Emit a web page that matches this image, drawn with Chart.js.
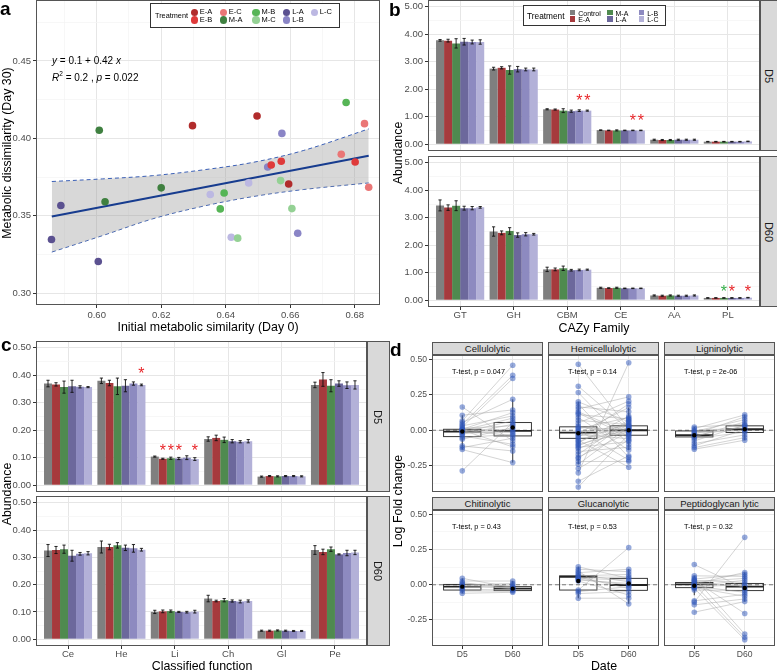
<!DOCTYPE html>
<html lang="en">
<head>
<meta charset="utf-8" />
<title>Metabolic similarity and CAZy abundance</title>
<script src="https://cdn.jsdelivr.net/npm/chart.js@4.4.1/dist/chart.umd.min.js"></script>
<style>
  html, body { margin: 0; background: #fff; }
  #fig { position: relative; width: 777px; height: 671px; overflow: hidden; font-family: "Liberation Sans", Arial, sans-serif; }
  #fig canvas { position: absolute; }
  .t { position: absolute; white-space: nowrap; line-height: 1; color: #000; }
  .strip { position: absolute; box-sizing: border-box; background: #d9d9d9; border: 1px solid #555; display: flex; align-items: center; justify-content: center; color: #1a1a1a; white-space: nowrap; }
  .lg { position: absolute; box-sizing: border-box; background: #fff; border: 1px solid #333; }
  .key { position: absolute; }
</style>
</head>
<body>
<div id="fig"></div>
<script>
// ---------- panel a ----------
const aTreat = ['E-A', 'E-B', 'E-C', 'M-A', 'M-B', 'M-C', 'L-A', 'L-B', 'L-C'];
const aGroup = ['E-A','E-A','E-A','E-B','E-B','E-B','E-C','E-C','E-C','M-A','M-A','M-A','M-B','M-B','M-B','M-C','M-C','M-C','L-A','L-A','L-A','L-B','L-B','L-B','L-C','L-C','L-C'];
const aInitial = [0.6297, 0.6497, 0.6595, 0.6541, 0.6572, 0.6801, 0.6830, 0.6758, 0.6843, 0.6008, 0.6200, 0.6026, 0.6773, 0.6395, 0.6383, 0.6570, 0.6605, 0.6437, 0.5860, 0.5889, 0.6005, 0.6574, 0.6530, 0.6623, 0.6352, 0.6471, 0.6417];
const aDay30 = [0.4082, 0.4144, 0.3705, 0.3828, 0.3852, 0.3847, 0.4095, 0.3897, 0.3684, 0.4052, 0.3680, 0.3590, 0.4232, 0.3647, 0.3544, 0.3727, 0.3546, 0.3355, 0.3346, 0.3566, 0.3204, 0.4032, 0.3815, 0.3387, 0.3637, 0.3712, 0.3361];
const aFitX = [0.5861, 0.6843];
const aFitY = [0.3495, 0.3888];
const aBandX = [0.5861, 0.6019, 0.6174, 0.6329, 0.6485, 0.6640, 0.6843];
const aBandHi = [0.3721, 0.3738, 0.3759, 0.3796, 0.3845, 0.3921, 0.4061];
const aBandLo = [0.3265, 0.3372, 0.3480, 0.3561, 0.3624, 0.3669, 0.3712];
const aXTicks = [0.59, 0.60, 0.61, 0.62, 0.63, 0.64, 0.65, 0.66, 0.67, 0.68];
const aYTicks = [0.300, 0.325, 0.350, 0.375, 0.400, 0.425, 0.450, 0.475];

// ---------- panels b and c ----------
const treatments = ['Control', 'E-A', 'M-A', 'L-A', 'L-B', 'L-C'];
const cazyFamilies = ['GT', 'GH', 'CBM', 'CE', 'AA', 'PL'];
const functions = ['Ce', 'He', 'Li', 'Ch', 'Gl', 'Pe'];
// rows = treatments, columns = families
const cazyD5 = [
  [3.78, 2.75, 1.27, 0.51, 0.16, 0.09],
  [3.77, 2.78, 1.26, 0.50, 0.15, 0.09],
  [3.67, 2.70, 1.22, 0.50, 0.15, 0.09],
  [3.73, 2.73, 1.20, 0.50, 0.16, 0.09],
  [3.72, 2.72, 1.22, 0.50, 0.16, 0.09],
  [3.72, 2.72, 1.22, 0.50, 0.16, 0.10]
];
const cazyD5Err = [
  [0.03, 0.05, 0.02, 0.01, 0.02, 0.01],
  [0.05, 0.04, 0.02, 0.01, 0.02, 0.01],
  [0.17, 0.15, 0.07, 0.02, 0.02, 0.01],
  [0.12, 0.10, 0.04, 0.01, 0.02, 0.01],
  [0.07, 0.05, 0.03, 0.01, 0.02, 0.01],
  [0.08, 0.05, 0.02, 0.01, 0.02, 0.01]
];
const cazyD60 = [
  [3.45, 2.50, 1.12, 0.45, 0.17, 0.08],
  [3.37, 2.45, 1.12, 0.44, 0.16, 0.08],
  [3.44, 2.52, 1.16, 0.45, 0.17, 0.08],
  [3.35, 2.37, 1.09, 0.43, 0.16, 0.08],
  [3.35, 2.40, 1.10, 0.43, 0.16, 0.08],
  [3.38, 2.40, 1.11, 0.43, 0.17, 0.09]
];
const cazyD60Err = [
  [0.20, 0.17, 0.08, 0.02, 0.02, 0.01],
  [0.10, 0.07, 0.05, 0.01, 0.02, 0.01],
  [0.18, 0.12, 0.08, 0.02, 0.02, 0.01],
  [0.07, 0.08, 0.03, 0.01, 0.02, 0.01],
  [0.06, 0.06, 0.03, 0.01, 0.02, 0.01],
  [0.03, 0.03, 0.02, 0.01, 0.02, 0.01]
];
const funcD5 = [
  [0.370, 0.380, 0.104, 0.168, 0.031, 0.365],
  [0.367, 0.372, 0.096, 0.172, 0.033, 0.385],
  [0.357, 0.360, 0.098, 0.165, 0.032, 0.362],
  [0.360, 0.362, 0.097, 0.160, 0.033, 0.370],
  [0.358, 0.370, 0.100, 0.158, 0.033, 0.364],
  [0.357, 0.365, 0.095, 0.160, 0.032, 0.365]
];
const funcD5Err = [
  [0.012, 0.010, 0.002, 0.008, 0.002, 0.010],
  [0.006, 0.010, 0.002, 0.010, 0.002, 0.025],
  [0.022, 0.030, 0.004, 0.010, 0.002, 0.022],
  [0.022, 0.022, 0.004, 0.006, 0.002, 0.010],
  [0.004, 0.006, 0.007, 0.004, 0.002, 0.012],
  [0.002, 0.003, 0.005, 0.006, 0.002, 0.015]
];
const funcD60 = [
  [0.325, 0.338, 0.100, 0.149, 0.031, 0.327],
  [0.327, 0.338, 0.102, 0.140, 0.031, 0.320],
  [0.330, 0.344, 0.103, 0.143, 0.032, 0.330],
  [0.306, 0.335, 0.100, 0.140, 0.031, 0.311],
  [0.313, 0.333, 0.099, 0.138, 0.030, 0.316],
  [0.315, 0.328, 0.101, 0.140, 0.030, 0.318]
];
const funcD60Err = [
  [0.022, 0.022, 0.006, 0.012, 0.002, 0.016],
  [0.013, 0.010, 0.005, 0.003, 0.002, 0.010],
  [0.015, 0.010, 0.004, 0.006, 0.002, 0.008],
  [0.020, 0.010, 0.002, 0.004, 0.002, 0.002],
  [0.005, 0.014, 0.003, 0.005, 0.002, 0.010],
  [0.006, 0.005, 0.005, 0.004, 0.002, 0.008]
];
// significance marks: [category, treatment, height, colour]
const RED = '#e8262a', GREEN = '#35b04a';
const cazyD5Stars = [[2, 4, 1.72, RED], [2, 5, 1.72, RED], [3, 4, 0.99, RED], [3, 5, 0.99, RED]];
const cazyD60Stars = [[5, 2, 0.46, GREEN], [5, 3, 0.46, RED], [5, 5, 0.46, RED]];
const funcD5Stars = [[1, 5, 0.421, RED], [2, 1, 0.139, RED], [2, 2, 0.139, RED], [2, 3, 0.139, RED], [2, 5, 0.139, RED]];
const funcD60Stars = [];
const bYTicks = [0, 0.5, 1, 1.5, 2, 2.5, 3, 3.5, 4, 4.5, 5];
const cYTicks = [0, 0.05, 0.1, 0.15, 0.2, 0.25, 0.3, 0.35, 0.4, 0.45, 0.5];

// ---------- panel d ----------
const dFacets = ['Cellulolytic', 'Hemicellulolytic', 'Ligninolytic', 'Chitinolytic', 'Glucanolytic', 'Peptidoglycan lytic'];
const dPValues = ['0.047', '0.14', '2e-06', '0.43', '0.53', '0.32'];
const dDates = ['D5', 'D60'];
const cellD5 = [0.164, 0.106, 0.066, 0.054, 0.042, 0.031, 0.023, 0.014, 0.007, 0.003, 0.0, -0.005, -0.009, -0.015, -0.019, -0.028, -0.04, -0.052, -0.063, -0.11, -0.122, -0.136, -0.286, 0.0];
const cellD60 = [-0.075, 0.143, 0.458, 0.218, 0.387, 0.101, 0.364, 0.031, 0.124, -0.04, 0.085, 0.007, -0.005, 0.066, -0.016, 0.042, -0.099, -0.028, 0.019, -0.146, -0.056, -0.228, 0.054, -0.117];
const hemiD5 = [0.465, 0.31, 0.265, 0.20, 0.185, 0.165, 0.15, 0.13, 0.11, 0.09, 0.07, 0.05, 0.03, 0.02, 0.01, 0.0, -0.01, -0.02, -0.03, -0.04, -0.05, -0.06, -0.07, -0.08, -0.09, -0.10, -0.11, -0.12, -0.13, -0.15, -0.17, -0.19, -0.20, -0.22, -0.24, -0.27, -0.30, -0.36, -0.40, 0.12];
const hemiD60 = [0.01, 0.005, -0.10, 0.06, -0.19, 0.13, 0.235, -0.02, 0.08, -0.14, 0.04, 0.205, -0.045, 0.0, 0.09, -0.21, 0.03, 0.16, -0.06, 0.015, 0.185, -0.005, -0.26, 0.05, 0.10, -0.01, 0.035, -0.08, 0.02, -0.12, 0.075, -0.015, 0.065, -0.22, 0.025, -0.07, 0.475, -0.18, -0.03, -0.04];
const lignD5 = [0.023, 0.012, 0.0, -0.009, -0.019, -0.028, -0.038, -0.047, -0.059, -0.075, -0.094, -0.110, -0.122, -0.134];
const lignD60 = [0.042, 0.108, 0.014, 0.075, 0.0, 0.094, 0.028, 0.059, -0.014, 0.035, -0.033, 0.005, -0.052, -0.070];
const chitD5 = [0.045, 0.026, 0.016, 0.007, -0.002, -0.012, -0.021, -0.033, -0.045, -0.061];
const chitD60 = [-0.021, 0.026, -0.031, -0.014, 0.009, -0.026, -0.002, -0.038, -0.045, -0.054];
const glucD5 = [0.127, 0.110, 0.096, 0.085, 0.073, 0.063, 0.054, 0.05, 0.045, 0.04, 0.033, 0.026, -0.038, -0.049, -0.063, -0.096];
const glucD60 = [0.045, 0.092, -0.136, 0.110, 0.021, 0.073, -0.026, 0.056, 0.033, -0.002, 0.009, -0.073, 0.263, -0.014, -0.049, -0.096];
const pepD5 = [0.143, 0.063, 0.049, 0.040, 0.031, 0.03, 0.021, 0.012, 0.005, 0.002, -0.007, -0.01, -0.016, -0.02, -0.026, -0.038, -0.115, -0.124, -0.143, -0.195];
const pepD60 = [-0.026, 0.059, -0.35, 0.073, 0.016, -0.204, 0.045, -0.012, 0.087, -0.373, 0.031, -0.054, 0.002, -0.082, -0.39, -0.040, -0.068, 0.336, -0.101, -0.120];
// box stats per facet: [lower whisker, Q1, median, Q3, upper whisker]
const boxD5 = [
  [-0.136, -0.045, -0.010, 0.007, 0.106],
  [-0.240, -0.057, -0.017, 0.024, 0.200],
  [-0.110, -0.047, -0.035, -0.005, 0.023],
  [-0.061, -0.038, -0.014, 0.002, 0.045],
  [-0.096, -0.038, 0.056, 0.063, 0.127],
  [-0.075, -0.021, 0.002, 0.016, 0.063]
];
const boxD60 = [
  [-0.228, -0.040, -0.005, 0.054, 0.218],
  [-0.140, -0.035, 0.000, 0.031, 0.160],
  [-0.070, -0.016, 0.007, 0.031, 0.108],
  [-0.054, -0.042, -0.028, -0.014, 0.026],
  [-0.136, -0.040, -0.002, 0.045, 0.110],
  [-0.120, -0.042, -0.014, 0.009, 0.087]
];
const meanD5 = [-0.009, -0.021, -0.035, -0.014, 0.026, -0.007];
const meanD60 = [0.019, 0.000, 0.007, -0.028, 0.009, -0.023];
const dYTicks = [-0.375, -0.25, -0.125, 0, 0.125, 0.25, 0.375, 0.5];

// ---------- styling ----------
const FONT = '"Liberation Sans", Arial, sans-serif';
const aColors = ['#b12c2c', '#df3a3a', '#ea7676', '#3f8040', '#56b556', '#94d194', '#5b5190', '#8a85c6', '#bcb8e2'];
const barColors = ['#7f7f7f', '#a63a3d', '#4f8a4f', '#6c689c', '#8d8ac0', '#b3b1d8'];
const fig = document.getElementById('fig');

function linScale(o) {
  const major = v => Math.abs(v / o.major - Math.round(v / o.major)) < 1e-6;
  return {
    type: 'linear', min: o.min, max: o.max, offset: false,
    afterBuildTicks: s => { s.ticks = o.ticks.map(v => ({ value: v })); },
    afterFit: s => {
      if (o.isX) s.height = o.size; else s.width = o.size;
      s.paddingLeft = s.paddingRight = s.paddingTop = s.paddingBottom = 0;
    },
    border: { display: false },
    grid: {
      offset: false, drawTicks: o.show, tickLength: 3,
      color: c => (!c.tick || major(c.tick.value)) ? '#e6e6e6' : '#f3f3f3',
      tickColor: c => (c.tick && major(c.tick.value)) ? '#333' : 'rgba(0,0,0,0)',
      lineWidth: c => (!c.tick || major(c.tick.value)) ? 1 : 0.7
    },
    ticks: {
      display: o.show, autoSkip: false, maxRotation: 0, minRotation: 0,
      padding: o.pad === undefined ? 2 : o.pad,
      color: '#4d4d4d', font: { family: FONT, size: o.font || 9.5 },
      callback: v => major(v) ? o.fmt(v) : ''
    }
  };
}

const framePlugin = {
  id: 'frame',
  afterDraw(chart) {
    const a = chart.chartArea, ctx = chart.ctx;
    ctx.save();
    ctx.strokeStyle = '#555';
    ctx.lineWidth = 1;
    ctx.strokeRect(Math.round(a.left) + 0.5, Math.round(a.top) + 0.5, Math.round(a.right - a.left) - 1, Math.round(a.bottom - a.top) - 1);
    ctx.restore();
  }
};

function makeChart(area, yw, xh, pt, type, datasets, xs, ys, plugins) {
  const [l, t, r, b] = area;
  const c = document.createElement('canvas');
  const left = l - yw, top = t - pt;
  c.width = r - left;
  c.height = b - top + xh;
  c.style.left = left + 'px';
  c.style.top = top + 'px';
  fig.appendChild(c);
  return new Chart(c, {
    type,
    data: { datasets },
    options: {
      responsive: false, animation: false, events: [],
      layout: { padding: { top: pt, left: 0, right: 0, bottom: 0 }, autoPadding: false },
      plugins: { legend: { display: false }, tooltip: { enabled: false } },
      scales: { x: xs, y: ys }
    },
    plugins: [...plugins, framePlugin]
  });
}

function txt(s, x, y, size, o = {}) {
  const d = document.createElement('div');
  d.className = 't';
  d.innerHTML = s;
  d.style.fontSize = size + 'px';
  d.style.left = x + 'px';
  d.style.top = y + 'px';
  const ax = o.align === 'left' ? '0' : '-50%';
  d.style.transform = 'translate(' + ax + ', -50%)' + (o.rot ? ' rotate(' + o.rot + 'deg)' : '');
  if (o.bold) d.style.fontWeight = 'bold';
  if (o.color) d.style.color = o.color;
  fig.appendChild(d);
  return d;
}

function strip(label, l, t, w, h, size, rot) {
  const d = document.createElement('div');
  d.className = 'strip';
  Object.assign(d.style, { left: l + 'px', top: t + 'px', width: w + 'px', height: h + 'px', fontSize: size + 'px' });
  const s = document.createElement('span');
  s.textContent = label;
  if (rot) s.style.transform = 'rotate(90deg)';
  d.appendChild(s);
  fig.appendChild(d);
}

function box(l, t, w, h) {
  const d = document.createElement('div');
  d.className = 'lg';
  Object.assign(d.style, { left: l + 'px', top: t + 'px', width: w + 'px', height: h + 'px' });
  fig.appendChild(d);
}

function key(cx, cy, size, color, round) {
  const d = document.createElement('div');
  d.className = 'key';
  Object.assign(d.style, { left: (cx - size / 2) + 'px', top: (cy - size / 2) + 'px', width: size + 'px', height: size + 'px', background: color, borderRadius: round ? '50%' : '0' });
  fig.appendChild(d);
}

// ---------- panel a chart ----------
const aDatasets = [
  { data: aBandX.map((x, i) => ({ x, y: aBandHi[i] })), borderColor: '#3a5fb5', borderWidth: 1, borderDash: [4, 3], pointRadius: 0, tension: 0.35, fill: '+1', backgroundColor: 'rgba(153,153,153,0.38)', order: 3 },
  { data: aBandX.map((x, i) => ({ x, y: aBandLo[i] })), borderColor: '#3a5fb5', borderWidth: 1, borderDash: [4, 3], pointRadius: 0, tension: 0.35, fill: false, order: 3 },
  { data: aFitX.map((x, i) => ({ x, y: aFitY[i] })), borderColor: '#173c8f', borderWidth: 2, pointRadius: 0, fill: false, order: 2 }
];
aTreat.forEach((g, k) => {
  aDatasets.push({
    data: aGroup.map((gg, i) => gg === g ? { x: aInitial[i], y: aDay30[i] } : null).filter(Boolean),
    showLine: false, pointRadius: 3.8, backgroundColor: aColors[k], borderWidth: 0, order: 1
  });
});
makeChart([36, 0, 380, 305], 36, 25, 0, 'line', aDatasets,
  linScale({ min: 0.5812, max: 0.6878, ticks: aXTicks, major: 0.02, fmt: v => v.toFixed(2), show: true, size: 25, isX: true }),
  linScale({ min: 0.2923, max: 0.4894, ticks: aYTicks, major: 0.05, fmt: v => v.toFixed(2), show: true, size: 36 }),
  []);

// ---------- bar facets (b, c) ----------
const errPlugin = {
  id: 'errbars',
  afterDatasetsDraw(chart) {
    const ctx = chart.ctx, ys = chart.scales.y;
    ctx.save();
    ctx.strokeStyle = '#111';
    ctx.lineWidth = 0.9;
    chart.data.datasets.forEach((ds, di) => {
      chart.getDatasetMeta(di).data.forEach((bar, i) => {
        const m = ds.data[i].y, e = ds.err[i], x = bar.x;
        const y1 = ys.getPixelForValue(m - e), y2 = ys.getPixelForValue(m + e);
        ctx.beginPath();
        ctx.moveTo(x, y1); ctx.lineTo(x, y2);
        ctx.moveTo(x - 1.6, y1); ctx.lineTo(x + 1.6, y1);
        ctx.moveTo(x - 1.6, y2); ctx.lineTo(x + 1.6, y2);
        ctx.stroke();
      });
    });
    ctx.restore();
  }
};

function starPlugin(stars) {
  return {
    id: 'stars',
    afterDatasetsDraw(chart) {
      const ctx = chart.ctx, ys = chart.scales.y;
      ctx.save();
      ctx.font = '16px ' + FONT;
      ctx.textAlign = 'center';
      ctx.textBaseline = 'alphabetic';
      stars.forEach(([cat, ser, v, col]) => {
        ctx.fillStyle = col;
        ctx.fillText('*', chart.getDatasetMeta(ser).data[cat].x, ys.getPixelForValue(v) + 9.3);
      });
      ctx.restore();
    }
  };
}

function barFacet(area, xh, cats, means, errs, stars, yMin, yMax, yTicks, yMajor) {
  const datasets = treatments.map((tr, k) => ({
    label: tr,
    data: cats.map((c, i) => ({ x: i, y: means[k][i] })),
    err: errs[k],
    backgroundColor: barColors[k], borderWidth: 0, categoryPercentage: 0.9, barPercentage: 1
  }));
  return makeChart(area, 36, xh, 0, 'bar', datasets,
    linScale({ min: -0.6, max: cats.length - 0.4, ticks: cats.map((c, i) => i), major: 1, fmt: v => cats[v], show: xh > 0, size: xh, isX: true, pad: 0 }),
    linScale({ min: yMin, max: yMax, ticks: yTicks, major: yMajor, fmt: v => v.toFixed(2), show: true, size: 36 }),
    [errPlugin, starPlugin(stars)]);
}

barFacet([428, 0, 760, 151], 0, cazyFamilies, cazyD5, cazyD5Err, cazyD5Stars, -0.25, 5.25, bYTicks, 1);
barFacet([428, 156, 760, 307], 24, cazyFamilies, cazyD60, cazyD60Err, cazyD60Stars, -0.25, 5.25, bYTicks, 1);
barFacet([36, 341, 367, 492], 0, functions, funcD5, funcD5Err, funcD5Stars, -0.025, 0.525, cYTicks, 0.1);
barFacet([36, 496, 367, 646], 25, functions, funcD60, funcD60Err, funcD60Stars, -0.025, 0.525, cYTicks, 0.1);

// ---------- panel d facets ----------
const dPairsD5 = [cellD5, hemiD5, lignD5, chitD5, glucD5, pepD5];
const dPairsD60 = [cellD60, hemiD60, lignD60, chitD60, glucD60, pepD60];

function boxPlugin(k) {
  return {
    id: 'boxes',
    beforeDatasetsDraw(chart) {
      const ctx = chart.ctx, xs = chart.scales.x, ys = chart.scales.y, a = chart.chartArea;
      ctx.save();
      const y0 = ys.getPixelForValue(0);
      ctx.strokeStyle = '#7a7a7a';
      ctx.lineWidth = 1.1;
      ctx.setLineDash([4, 3]);
      ctx.beginPath(); ctx.moveTo(a.left, y0); ctx.lineTo(a.right, y0); ctx.stroke();
      ctx.setLineDash([]);
      [boxD5[k], boxD60[k]].forEach((s, pos) => {
        const [lo, q1, med, q3, hi] = s;
        const xl = xs.getPixelForValue(pos - 0.37), xr = xs.getPixelForValue(pos + 0.37), xc = xs.getPixelForValue(pos);
        ctx.strokeStyle = '#222';
        ctx.lineWidth = 0.9;
        ctx.beginPath();
        ctx.moveTo(xc, ys.getPixelForValue(hi)); ctx.lineTo(xc, ys.getPixelForValue(q3));
        ctx.moveTo(xc, ys.getPixelForValue(q1)); ctx.lineTo(xc, ys.getPixelForValue(lo));
        ctx.stroke();
        ctx.strokeRect(xl, ys.getPixelForValue(q3), xr - xl, ys.getPixelForValue(q1) - ys.getPixelForValue(q3));
        ctx.lineWidth = 1.8;
        ctx.beginPath(); ctx.moveTo(xl, ys.getPixelForValue(med)); ctx.lineTo(xr, ys.getPixelForValue(med)); ctx.stroke();
      });
      ctx.restore();
    }
  };
}

const dCols = [[432, 543], [548, 659], [664, 775]];
const dRows = [[355, 492], [510, 646]];
dFacets.forEach((name, k) => {
  const col = k % 3, row = Math.floor(k / 3);
  const [l, r] = dCols[col], [t, b] = dRows[row];
  const d5 = dPairsD5[k], d60 = dPairsD60[k];
  const links = [];
  d5.forEach((v, i) => { links.push({ x: 0, y: v }, { x: 1, y: d60[i] }, { x: 1, y: null }); });
  const datasets = [
    { data: links, borderColor: 'rgba(165,165,165,0.6)', borderWidth: 0.8, pointRadius: 0, spanGaps: false, fill: false, order: 3 },
    { data: d5.map(v => ({ x: 0, y: v })), showLine: false, pointRadius: 2.8, backgroundColor: 'rgba(45,85,185,0.5)', borderWidth: 0, order: 2 },
    { data: d60.map(v => ({ x: 1, y: v })), showLine: false, pointRadius: 2.8, backgroundColor: 'rgba(45,85,185,0.5)', borderWidth: 0, order: 2 },
    { data: [{ x: 0, y: meanD5[k] }, { x: 1, y: meanD60[k] }], showLine: false, pointRadius: 2.2, backgroundColor: '#000', borderWidth: 0, order: 1 }
  ];
  const yw = col === 0 ? 34 : 0, xh = row === 1 ? 25 : 0;
  makeChart([l, t, r, b], yw, xh, 4, 'line', datasets,
    linScale({ min: -0.6, max: 1.6, ticks: [0, 1], major: 1, fmt: v => dDates[v], show: row === 1, size: xh, isX: true, font: 8.6, pad: 0 }),
    linScale({ min: -0.435, max: 0.53, ticks: dYTicks, major: 0.25, fmt: v => v.toFixed(2), show: col === 0, size: yw, font: 8.6 }),
    [boxPlugin(k)]);
  strip(name, l, t - 13, r - l, 13, 9.5, false);
  txt('T-test, p = ' + dPValues[k], l + 20, row === 0 ? 371.7 : 526.7, 7.3, { align: 'left' });
});

// ---------- strips for b and c ----------
strip('D5', 760, 0, 18, 151, 11, true);
strip('D60', 760, 156, 18, 151, 11, true);
strip('D5', 367, 341, 23, 151, 11, true);
strip('D60', 367, 496, 23, 150, 11, true);

// ---------- titles and annotations ----------
txt('a', 0, 7.5, 19, { align: 'left', bold: true });
txt('b', 389, 9, 19, { align: 'left', bold: true });
txt('c', 1, 343.5, 19, { align: 'left', bold: true });
txt('d', 390, 348.5, 19, { align: 'left', bold: true });

txt('Metabolic dissimilarity (Day 30)', 6.5, 153, 12.4, { rot: -90 });
txt('Initial metabolic similarity (Day 0)', 208, 326.5, 12.4);
txt('<i>y</i> = 0.1 + 0.42 <i>x</i>', 52, 61, 10, { align: 'left' });
txt('<i>R</i><sup style="font-size:6.5px">2</sup> = 0.2 , <i>p</i> = 0.022', 52, 77.3, 10, { align: 'left' });

txt('Abundance', 398, 153, 12.4, { rot: -90 });
txt('CAZy Family', 594, 327.5, 12.4);
txt('Abundance', 7, 494, 12.4, { rot: -90 });
txt('Classified function', 202, 665.5, 12.4);
txt('Log Fold change', 398, 501, 12.4, { rot: -90 });
txt('Date', 604, 665.5, 12.4);

// legend a
box(150, 3, 190, 25);
txt('Treatment', 155, 15.7, 7.3, { align: 'left' });
const aLegendX = [194.3, 223.3, 256, 286.7, 314.3];
aTreat.forEach((g, k) => {
  const cx = aLegendX[Math.floor(k / 2)], cy = k % 2 === 0 ? 12.3 : 20;
  key(cx, cy, 7.6, aColors[k], true);
  txt(g, cx + 5.5, cy, 7.5, { align: 'left' });
});

// legend b
box(523, 5, 143, 21);
txt('Treatment', 527, 15.5, 8.3, { align: 'left' });
const bLegendX = [572.7, 610, 641.7];
treatments.forEach((g, k) => {
  const cx = bLegendX[Math.floor(k / 2)], cy = k % 2 === 0 ? 12.7 : 19;
  key(cx, cy, 5.5, barColors[k], false);
  txt(g, cx + 5.5, cy, 7, { align: 'left' });
});
</script>
</body>
</html>
